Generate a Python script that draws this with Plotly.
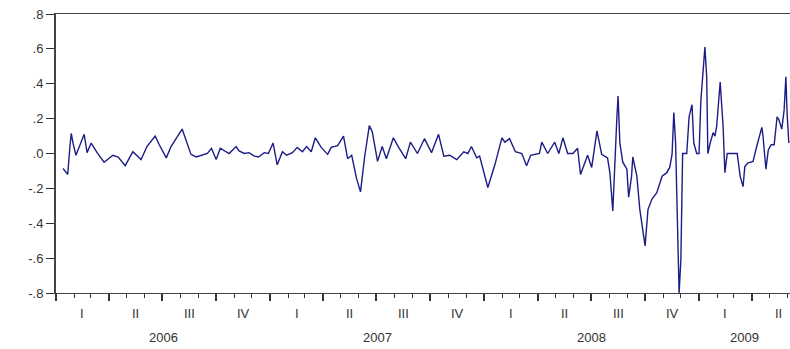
import pandas as pd
import plotly.graph_objects as go

# Day offsets from 2006-01-01 and series values
days = [12, 20, 24, 26, 29, 34, 41, 48, 53, 60, 70, 82, 97, 106, 118, 131, 145, 155, 169, 176,
        188, 196, 215, 230, 239, 258, 265, 273, 280, 295, 307, 312,
        321, 329, 338, 345, 355, 362, 370, 377, 386, 393, 403, 411, 420, 427, 435, 442, 452, 463,
        469, 480, 490, 497, 504, 512, 519, 526, 534, 539, 548, 556, 563, 575, 584, 596, 604, 616, 628,
        640, 652, 661, 671, 683, 695, 702, 708, 717, 722, 736, 748, 760, 765, 773, 783, 794, 802,
        809, 824, 828, 838, 850, 857, 864, 872, 881, 889, 894, 906, 913, 922, 930,
        940, 944, 949, 952, 956, 958, 961, 966, 973, 976, 981, 983, 990, 995, 1004, 1009, 1016,
        1024, 1033, 1041, 1046, 1050, 1053, 1056, 1058, 1062, 1065, 1068, 1075, 1079, 1084, 1087,
        1092, 1096, 1099, 1103, 1106, 1109, 1111, 1115, 1120, 1123, 1126, 1132, 1137, 1140, 1144,
        1161, 1166, 1171, 1174, 1179, 1188, 1195, 1203, 1205, 1210, 1214, 1219, 1224, 1229, 1232,
        1237, 1241, 1244, 1246, 1249]
values = [-0.086, -0.12, 0.05, 0.115, 0.06, -0.01, 0.05, 0.11, 0.005, 0.06, 0.005, -0.05, -0.01, -0.02,
          -0.07, 0.01, -0.035, 0.04, 0.1, 0.05, -0.025, 0.04, 0.14, -0.005, -0.02, 0.0, 0.03, -0.035,
          0.03, 0.0, 0.04, 0.015,
          0.0, 0.005, -0.015, -0.02, 0.005, 0.0, 0.06, -0.065, 0.01, -0.01, 0.005, 0.035, 0.01, 0.04,
          0.01, 0.09, 0.035, -0.005, 0.035, 0.045, 0.1, -0.03, -0.01, -0.14, -0.22, -0.02, 0.16, 0.125,
          -0.045, 0.04, -0.03, 0.09, 0.035, -0.03, 0.065, 0.0, 0.085,
          0.005, 0.11, -0.015, -0.01, -0.035, 0.01, 0.0, 0.04, -0.025, -0.015, -0.195, -0.065, 0.09,
          0.065, 0.085, 0.01, 0.0, -0.07, -0.01, 0.0, 0.065, 0.0, 0.065, 0.0, 0.09, 0.0, 0.0, 0.03,
          -0.12, -0.01, -0.08, 0.13, -0.005,
          -0.025, -0.11, -0.33, -0.065, 0.21, 0.33, 0.06, -0.05, -0.09, -0.25, -0.13, -0.02, -0.13,
          -0.32, -0.53, -0.32, -0.26, -0.225, -0.13, -0.11, -0.08, -0.005, 0.235, 0.06, -0.28, -0.8,
          -0.61, 0.0, 0.0, 0.21, 0.28, 0.06, 0.0, 0.0, 0.3, 0.5, 0.61, 0.44, 0.0, 0.06, 0.12, 0.1,
          0.155, 0.41, 0.155, -0.11, 0.0, 0.0, -0.13, -0.19, -0.075, -0.055, -0.045, 0.05, 0.15, 0.1,
          -0.09, 0.02, 0.05, 0.05, 0.21, 0.195, 0.14, 0.25, 0.44, 0.235, 0.06]

y_ticks = [0.8, 0.6, 0.4, 0.2, 0.0, -0.2, -0.4, -0.6, -0.8]
y_tick_labels = [".8", ".6", ".4", ".2", ".0", "-.2", "-.4", "-.6", "-.8"]
quarter_labels = ["I", "II", "III", "IV"]
years = [2006, 2007, 2008, 2009]

start = pd.Timestamp("2006-01-01")
x_end = pd.Timestamp("2009-06-05")
dates = [start + pd.Timedelta(days=d) for d in days]

fig = go.Figure()
fig.add_trace(go.Scatter(x=dates, y=values, mode="lines",
                         line=dict(color="#1c1c86", width=1.4), hoverinfo="skip"))

quarter_starts = pd.date_range("2006-01-01", "2009-06-01", freq="QS")
annotations = []
font = dict(family="Liberation Sans, Arial, sans-serif", size=13, color="#333333")
for qs in quarter_starts:
    mid = qs + (qs + pd.offsets.QuarterBegin(startingMonth=1) - qs) / 2
    if mid > x_end:
        continue
    annotations.append(dict(x=mid, y=-0.072, xref="x", yref="paper", text=quarter_labels[(qs.month - 1) // 3],
                            showarrow=False, font=font, yanchor="middle"))
for yr in years:
    y0 = pd.Timestamp(f"{yr}-01-01")
    y1 = min(pd.Timestamp(f"{yr + 1}-01-01"), x_end)
    annotations.append(dict(x=y0 + (y1 - y0) / 2, y=-0.158, xref="x", yref="paper", text=str(yr),
                            showarrow=False, font=font, yanchor="middle"))

fig.update_layout(
    width=790, height=349,
    margin=dict(l=56, r=0, t=14, b=56),
    paper_bgcolor="white", plot_bgcolor="white",
    showlegend=False,
    annotations=annotations,
    xaxis=dict(type="date", range=[start, x_end], showgrid=False, zeroline=False,
               showline=True, linecolor="#444444", linewidth=1, mirror=True,
               tickvals=list(quarter_starts), ticktext=[""] * len(quarter_starts),
               ticks="outside", ticklen=7, tickcolor="#333333", tickwidth=1.5,
               minor=dict(ticks="outside", dtick="M1", tick0="2006-01-01", ticklen=4,
                          tickcolor="#333333", tickwidth=1.2, showgrid=False)),
    yaxis=dict(range=[-0.8, 0.8], showgrid=False, zeroline=False,
               showline=True, linecolor="#444444", linewidth=2,
               tickvals=y_ticks, ticktext=y_tick_labels, ticks="outside", ticklen=8,
               tickcolor="#333333", tickfont=font),
)

fig.write_html("out.html", config={"displayModeBar": False},
               post_script="document.body.style.margin='0';document.body.style.overflow='hidden';")
